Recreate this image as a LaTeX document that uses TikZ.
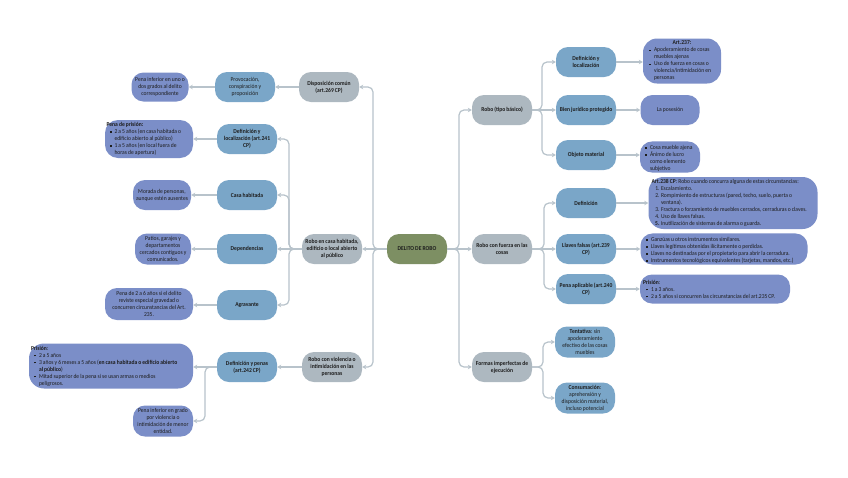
\documentclass[tikz,border=0pt]{standalone}
\usepackage{fontspec}
\setmainfont{Carlito}[FakeStretch=0.93,WordSpace=0.85]
\usepackage{enumitem}
\usetikzlibrary{arrows.meta}
\definecolor{cgray}{HTML}{ADB8C0}
\definecolor{cblue}{HTML}{7AA6C8}
\definecolor{cpurp}{HTML}{7B8EC8}
\definecolor{cgreen}{HTML}{7D8F63}
\definecolor{cline}{HTML}{B8C3CB}
\definecolor{ctext}{HTML}{1E1E1E}
\newcommand{\tightsp}{\spaceskip=0pt\xspaceskip=0pt\relax}
\setlist[itemize]{label={\raisebox{0.8pt}{\rule{1.6pt}{1.6pt}}},leftmargin=8pt,labelsep=3pt,nosep,before={\raggedright\tightsp}}
\setlist[enumerate]{label=\arabic*.,leftmargin=9.5pt,labelsep=1.5pt,nosep,before={\raggedright\tightsp}}
\newcommand{\fsz}{\fontsize{6}{7}\selectfont\hyphenpenalty=10000\exhyphenpenalty=10000}
\tikzset{
  box/.style={rounded corners=12pt,inner xsep=1.5pt,inner ysep=1pt,align=center,
    font=\fsz,text=ctext},
  lone/.style={box,fill=cgray,font=\fsz\bfseries,minimum width=60,minimum height=30},
  ltwo/.style={box,fill=cblue,font=\fsz\bfseries,minimum width=60,minimum height=30},
  ltwon/.style={ltwo,font=\fsz},
  lthree/.style={box,fill=cpurp,execute at begin node=\tightsp},
  cen/.style={box,fill=cgreen,font=\fsz\bfseries,minimum width=60,minimum height=30},
  conn/.style={draw=cline,line width=1.2pt,rounded corners=5pt,
    -{Stealth[length=4pt,width=4.5pt]}}
}
\begin{document}
\begin{tikzpicture}[x=1pt,y=-1pt]
\useasboundingbox[fill=white] (0,0) rectangle (848,477);
% center
\node[cen] (cen) at (417,249) {DELITO DE ROBO};
% right level 1
\node[lone] (rb) at (502,110) {Robo (tipo básico)};
\node[lone] (rf) at (502,249) {Robo con fuerza en las\\cosas};
\node[lone] (fi) at (502,367) {Formas imperfectas de\\ejecución};
% right level 2
\node[ltwo] (dl) at (586,62) {Definición y\\localización};
\node[ltwo,inner xsep=0pt] (bj) at (586,110) {Bien jurídico protegido};
\node[ltwo] (om) at (586,155) {Objeto material};
\node[ltwo] (df) at (586,203) {Definición};
\node[ltwo] (lf) at (586,249) {Llaves falsas (art.239\\CP)};
\node[ltwo] (pa) at (586,289) {Pena aplicable (art.240\\CP)};
\node[ltwon,minimum height=31] (te) at (585,342) {\textbf{Tentativa}: sin\\apoderamiento\\efectivo de las cosas\\muebles};
\node[ltwon,minimum height=31] (co) at (585,398) {\textbf{Consumación}:\\aprehensión y\\disposición material,\\incluso potencial};
% right level 3
\node[lthree,minimum width=78,minimum height=45,text width=72,align=left,rounded corners=14pt] (a237) at (682,61)
  {\makebox[\linewidth]{\textbf{Art.237:}}\par
   \begin{itemize}\item Apoderamiento de cosas muebles ajenas \item Uso de fuerza en cosas o violencia/intimidación en personas\end{itemize}};
\node[lthree,minimum width=59,minimum height=30] (po) at (670,110) {La posesión};
\node[lthree,minimum width=60,minimum height=30,text width=56,align=left] (oml) at (670,157)
  {\begin{itemize}\item Cosa mueble ajena \item Ánimo de lucro\\como elemento\\subjetivo\end{itemize}};
\node[lthree,minimum width=169,minimum height=52,text width=163,align=left,rounded corners=15pt] (a238) at (733,203)
  {\textbf{Art.238 CP}: Robo cuando concurra alguna de estas circunstancias:\par
   \begin{enumerate}\item Escalamiento. \item Rompimiento de estructuras (pared, techo, suelo, puerta o\\ventana). \item Fractura o forzamiento de muebles cerrados, cerraduras o claves. \item Uso de llaves falsas. \item[\textbf{5.}] Inutilización de sistemas de alarma o guarda.\end{enumerate}};
\node[lthree,minimum width=167,minimum height=31,text width=162,align=left] (lfl) at (724,249)
  {\begin{itemize}\item Ganzúas u otros instrumentos similares. \item Llaves legítimas obtenidas ilícitamente o perdidas. \item Llaves no destinadas por el propietario para abrir la cerradura. \item Instrumentos tecnológicos equivalentes (tarjetas, mandos, etc.)\end{itemize}};
\node[lthree,minimum width=150,minimum height=29,text width=144,align=left] (p240) at (715,289)
  {\textbf{Prisión}:\par\begin{itemize}\item 1 a 3 años. \item 2 a 5 años si concurren las circunstancias del art.235 CP.\end{itemize}};
% left level 1
\node[lone] (dc) at (329,87) {Disposición común\\(art.269 CP)};
\node[lone] (rc) at (332,249) {Robo en casa habitada,\\edificio o local abierto\\al público};
\node[lone] (rv) at (332,367) {Robo con violencia o\\intimidación en las\\personas};
% left level 2
\node[ltwon] (pcp) at (245,87) {Provocación,\\conspiración y\\proposición};
\node[ltwo] (d241) at (247,139) {Definición y\\localización (art.241\\CP)};
\node[ltwo] (ch) at (247,195) {Casa habitada};
\node[ltwo] (dep) at (247,249) {Dependencias};
\node[ltwo] (agr) at (247,305) {Agravante};
\node[ltwo] (d242) at (247,367) {Definición y penas\\(art.242 CP)};
% left level 3
\node[lthree,minimum width=57,minimum height=29] (pi) at (160,87) {Pena inferior en uno o\\dos grados al delito\\correspondiente};
\node[lthree,minimum width=88,minimum height=38,text width=85,align=left,rounded corners=13pt] (pp241) at (149,139)
  {\textbf{Pena de prisión:}\par\begin{itemize}\item 2 a 5 años (en casa habitada o\\edificio abierto al público) \item 1 a 5 años (en local fuera de\\horas de apertura)\end{itemize}};
\node[lthree,minimum width=58,minimum height=30] (mp) at (162,195) {Morada de personas,\\aunque estén ausentes};
\node[lthree,minimum width=56,minimum height=31] (pat) at (163,249) {Patios, garajes y\\departamentos\\cercados contiguos y\\comunicados.};
\node[lthree,minimum width=88,minimum height=32] (p26) at (149,304) {Pena de 2 a 6 años si el delito\\reviste especial gravedad o\\concurren circunstancias del Art.\\235.};
\node[lthree,minimum width=164,minimum height=45,text width=160,align=left,rounded corners=15pt] (p242) at (111,366)
  {\textbf{Prisión}:\par\begin{itemize}\item 2 a 5 años \item 3 años y 6 meses a 5 años (\textbf{en casa habitada o edificio abierto\\al público}) \item Mitad superior de la pena si se usan armas o medios\\peligrosos.\end{itemize}};
\node[lthree,minimum width=60,minimum height=31] (pig) at (163,421) {Pena inferior en grado\\por violencia o\\intimidación de menor\\entidad.};
% trunks
\coordinate (tR) at (459,0);
\coordinate (tL) at (373,0);
\coordinate (tRB) at (542,0);
\coordinate (tRF) at (544,0);
\coordinate (tFI) at (543,0);
\coordinate (tRC) at (289,0);
\coordinate (tD) at (205,0);
% connectors right
\draw[conn] (cen.east) -- (cen.east -| tR) |- (rb.west);
\draw[conn] (cen.east) -- (rf.west);
\draw[conn] (cen.east) -- (cen.east -| tR) |- (fi.west);
\draw[conn] (rb.east) -- (rb.east -| tRB) |- (dl.west);
\draw[conn] (rb.east) -- (bj.west);
\draw[conn] (rb.east) -- (rb.east -| tRB) |- (om.west);
\draw[conn] (rf.east) -- (rf.east -| tRF) |- (df.west);
\draw[conn] (rf.east) -- (lf.west);
\draw[conn] (rf.east) -- (rf.east -| tRF) |- (pa.west);
\draw[conn] (fi.east) -- (fi.east -| tFI) |- (te.west);
\draw[conn] (fi.east) -- (fi.east -| tFI) |- (co.west);
\draw[conn] (dl.east) -- (dl.east -| a237.west);
\draw[conn] (bj.east) -- (po.west);
\draw[conn] (om.east) -- (om.east -| oml.west);
\draw[conn] (df.east) -- (a238.west);
\draw[conn] (lf.east) -- (lfl.west);
\draw[conn] (pa.east) -- (p240.west);
% connectors left
\draw[conn] (cen.west) -- (cen.west -| tL) |- (dc.east);
\draw[conn] (cen.west) -- (rc.east);
\draw[conn] (cen.west) -- (cen.west -| tL) |- (rv.east);
\draw[conn] (dc.west) -- (pcp.east);
\draw[conn] (pcp.west) -- (pi.east);
\draw[conn] (rc.west) -- (rc.west -| tRC) |- (d241.east);
\draw[conn] (rc.west) -- (rc.west -| tRC) |- (ch.east);
\draw[conn] (rc.west) -- (dep.east);
\draw[conn] (rc.west) -- (rc.west -| tRC) |- (agr.east);
\draw[conn] (d241.west) -- (pp241.east);
\draw[conn] (ch.west) -- (mp.east);
\draw[conn] (dep.west) -- (pat.east);
\draw[conn] (agr.west) -- (agr.west -| p26.east);
\draw[conn] (rv.west) -- (d242.east);
\draw[conn] (d242.west) -- (d242.west -| p242.east);
\draw[conn] (d242.west) -- (d242.west -| tD) |- (pig.east);
\end{tikzpicture}
\end{document}
